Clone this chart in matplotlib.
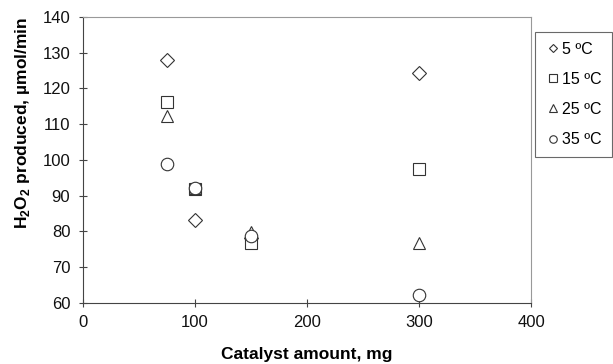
import matplotlib
matplotlib.use("Agg")
from matplotlib import pyplot as plt

plt.rcParams['font.family'] = ['Liberation Sans', 'DejaVu Sans']
plt.rcParams['mathtext.fontset'] = 'custom'
plt.rcParams['mathtext.rm'] = 'Liberation Sans'
plt.rcParams['mathtext.bf'] = 'Liberation Sans:bold'

catalyst = [75, 100, 150, 300]
t5 = [127.8, 83.3, 78.0, 124.2]
t15 = [116.2, 91.9, 76.6, 97.4]
t25 = [112.3, 92.0, 79.9, 76.6]
t35 = [98.7, 92.0, 78.7, 62.2]
labels = ['5 ºC', '15 ºC', '25 ºC', '35 ºC']

fig = plt.figure(figsize=(6.13, 3.64), dpi=100)
ax = fig.add_axes([0.135, 0.168, 0.732, 0.786])

series = [(t5, 'D', 7), (t15, 's', 9), (t25, '^', 9), (t35, 'o', 9)]
for (vals, mk, ms), lab in zip(series, labels):
    ax.plot(catalyst, vals, linestyle='none', marker=mk, markersize=ms,
            markerfacecolor='white', markeredgecolor='#333333',
            markeredgewidth=0.8, label=lab)

ax.set_xlim(0, 400)
ax.set_ylim(60, 140)
ax.set_xticks(range(0, 401, 100))
ax.set_yticks(range(60, 141, 10))
ax.tick_params(direction='inout', length=6, width=0.8, labelsize=12, pad=6,
               colors='#444444', labelcolor='#111111')
for s in ['left', 'bottom']:
    ax.spines[s].set_color('#444444')
for s in ['top', 'right']:
    ax.spines[s].set_color('#999999')

ax.set_xlabel('Catalyst amount, mg', fontsize=12.5, fontweight='bold', labelpad=12)
ax.set_ylabel('H$_\\mathbf{2}$O$_\\mathbf{2}$ produced, µmol/min', fontsize=12.5,
              fontweight='bold')
ax.yaxis.set_label_coords(-0.113, 0.628)

leg = ax.legend(loc='upper left', bbox_to_anchor=(0.873, 0.912),
                bbox_transform=fig.transFigure, fontsize=11.5, frameon=True,
                fancybox=False, edgecolor='#444444', markerscale=0.6,
                handlelength=1.0, handletextpad=0.1, labelspacing=0.95,
                borderpad=0.6, borderaxespad=0)
leg.get_frame().set_linewidth(0.8)

fig.savefig('out.png', dpi=100)
